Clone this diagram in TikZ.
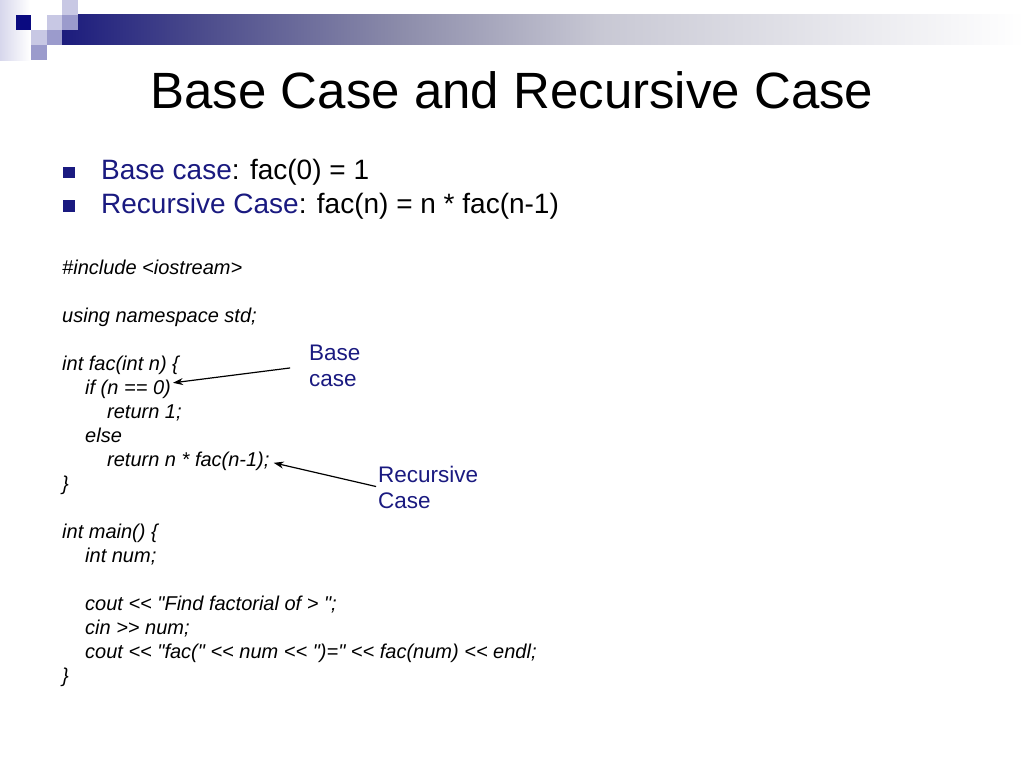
\documentclass[tikz,border=0pt]{standalone}
\usepackage{fontspec}
\setmainfont{Liberation Sans}
\newfontfamily\codefont{Liberation Sans} % no TeX ligatures: keeps << and "
\usetikzlibrary{arrows.meta,positioning}
\definecolor{slidenavy}{RGB}{26,26,128}
\definecolor{sqdark}{RGB}{10,10,128}
\definecolor{sqmid}{RGB}{155,155,204}
\definecolor{sqlight}{RGB}{200,200,228}
\definecolor{sqfade}{RGB}{215,215,236}
\definecolor{barA}{RGB}{28,28,125}
\definecolor{barB}{RGB}{75,75,140}
\definecolor{barC}{RGB}{140,140,170}
\definecolor{barD}{RGB}{200,200,212}
\tikzset{
	x=1pt, y=-1pt, % pixel grid, y runs down
	code/.style={anchor=base west, inner sep=0pt, font=\codefont\fontsize{20}{24}\selectfont\itshape},
	bulletbox/.style={fill=slidenavy, minimum size=11.5pt, inner sep=0pt},
	bullettext/.style={inner sep=0pt, font=\fontsize{28}{33}\selectfont},
	note/.style={anchor=north west, inner sep=0pt, align=left, text=slidenavy, font=\fontsize{22.5}{26}\selectfont},
	pointer/.style={-{Stealth[length=10pt,width=7pt]}, line width=1.2pt},
}
\begin{document}
\begin{tikzpicture}
	\useasboundingbox (0,0) rectangle (1024,768);
	% header decoration
	\shade[left color=sqfade, right color=white] (0,0) rectangle (30,60);
	\foreach \xa/\xb/\ca/\cb in {62/201/barA/barB, 200/401/barB/barC, 400/601/barC/barD, 600/1024/barD/white}
		\shade[left color=\ca, right color=\cb] (\xa,15) rectangle (\xb,45);
	\foreach \cx/\cy/\col in {62/0/sqlight, 15.5/15/sqdark, 46.5/15/sqlight, 62/15/sqmid, 31/30/sqlight, 46.5/30/sqmid, 31/45/sqmid}
		\fill[\col] (\cx,\cy) rectangle ++(15.5,15);

	\node[anchor=base, inner sep=0pt, font=\fontsize{51}{60}\selectfont] (title) at (512,108) {Base Case and Recursive Case};

	\node[bulletbox] (b1) at (69,172.5) {};
	\node[bulletbox] (b2) at (69,206) {};
	\node[bullettext, right=26pt of b1] (basetxt) {{\color{slidenavy}Base case}: fac(0) = 1};
	\node[bullettext, right=26pt of b2] (rectxt) {{\color{slidenavy}Recursive Case}: fac(n) = n * fac(n-1)};

	% code listing
	\node[code] (inc) at (62,274) {\#include <iostream>};
	\node[code] (usens) at (62,322) {using namespace std;};
	\node[code] (fachead) at (62,370) {int fac(int n) \{};
	\node[code] (ifline) at (85,394) {if (n == 0)};
	\node[code] (retone) at (107,418) {return 1;};
	\node[code] (elseline) at (85,442) {else};
	\node[code] (retline) at (107,466) {return n * fac(n-1);};
	\node[code] (facend) at (62,490) {\}};
	\node[code] (mainhead) at (62,538) {int main() \{};
	\node[code] (numdecl) at (85,562) {int num;};
	\node[code] (coutask) at (85,610) {cout << "Find factorial of > ";};
	\node[code] (cinline) at (85,634) {cin >> num;};
	\node[code] (coutres) at (85,658) {cout << "fac(" << num << ")=" << fac(num) << endl;};
	\node[code] (mainend) at (62,682) {\}};

	% callouts
	\node[note] (baselbl) at (309,344.5) {Base\\case};
	\node[note] (reclbl) at (378,465.5) {Recursive\\Case};
	\coordinate (iftip) at ([xshift=2pt,yshift=6pt]ifline.east);
	\coordinate (rettip) at ([xshift=4pt,yshift=-2pt]retline.east);
	\draw[pointer, shorten <=19pt] (baselbl.west) -- (iftip);
	\draw[pointer, shorten <=2pt] (reclbl.west) -- (rettip);
\end{tikzpicture}
\end{document}
